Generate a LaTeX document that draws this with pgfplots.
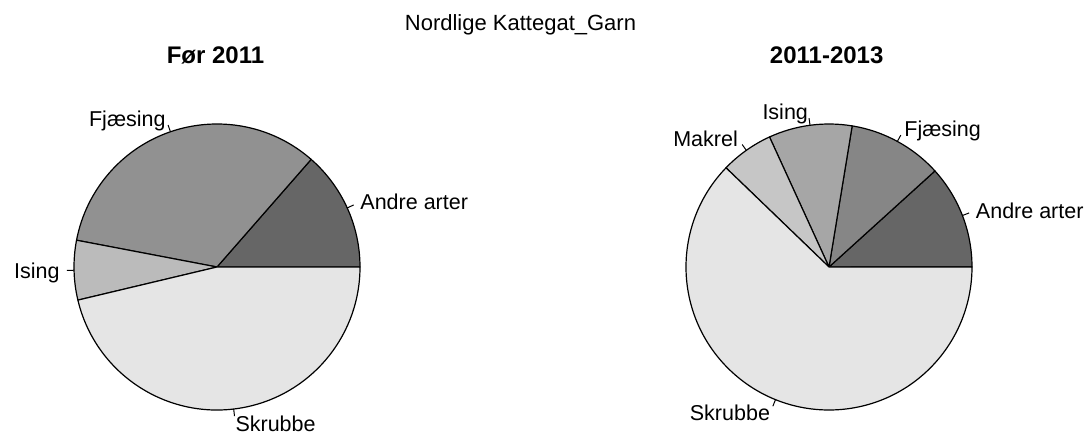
\documentclass[border=0pt]{standalone}
\usepackage{fontspec}
\setmainfont{Liberation Sans}
\usepackage{pgfplots}
\pgfplotsset{compat=1.18}
\usepackage{pgfplotstable}

% shares of each species (R pie order: counter-clockwise from 3 o'clock)
\pgfplotstableread[col sep=comma]{
name,share,gray
Andre arter,0.1356,0.40
Fjæsing,0.3344,0.567
Ising,0.0672,0.733
Skrubbe,0.4628,0.90
}\pieA
\pgfplotstableread[col sep=comma]{
name,share,gray
Andre arter,0.1172,0.40
Fjæsing,0.1069,0.525
Ising,0.0942,0.65
Makrel,0.0597,0.775
Skrubbe,0.6220,0.90
}\pieB

\newcommand\lblfont{\fontsize{21.5bp}{26bp}\selectfont}
\def\R{143bp}

\newcommand\drawpie[1]{%
  \pgfplotstablegetrowsof{#1}%
  \pgfmathtruncatemacro\nrows{\pgfplotsretval-1}%
  \def\cum{0}%
  \pgfplotsforeachungrouped \r in {0,...,\nrows}{%
    \pgfplotstablegetelem{\r}{share}\of{#1}\let\sh\pgfplotsretval
    \pgfplotstablegetelem{\r}{gray}\of{#1}\let\gv\pgfplotsretval
    \pgfplotstablegetelem{\r}{name}\of{#1}\let\nm\pgfplotsretval
    \pgfmathsetmacro\aS{360*\cum}%
    \pgfmathsetmacro\aE{360*(\cum+\sh)}%
    \pgfmathsetmacro\aM{(\aS+\aE)/2}%
    \pgfmathsetmacro\cx{cos(\aM)}%
    \pgfmathsetmacro\sy{sin(\aM)}%
    \pgfmathsetmacro\gp{100*\gv}%
    \pgfmathparse{\cx>0}%
    \ifdim\pgfmathresult pt>0.5pt \def\anc{base west}\else\def\anc{base east}\fi
    \edef\cmd{%
      \noexpand\filldraw[fill=white!\gp!black, draw=black, line width=1.2bp, line join=round]
        (axis cs:0,0) -- (axis cs:{cos(\aS)},{sin(\aS)})
        arc[start angle=\aS, end angle=\aE, radius=\R] -- cycle;
      \noexpand\draw[line width=1bp] (axis cs:{\cx},{\sy}) -- (axis cs:{1.05*\cx},{1.05*\sy});
      \noexpand\node[anchor=\anc, font=\noexpand\lblfont, inner sep=0pt, yshift=-8bp]
        at (axis cs:{1.1*\cx},{1.1*\sy}) {\nm};
    }\cmd
    \pgfmathsetmacro\newcum{\cum+\sh}\let\cum\newcum
  }%
}

\begin{document}
\begin{tikzpicture}
\path[use as bounding box] (0,0) rectangle (1086bp,434bp);

\begin{axis}[at={(217bp,167bp)}, anchor=center, x=\R, y=\R,
  xmin=-1, xmax=1, ymin=-1, ymax=1, hide axis, clip=false]
  \drawpie{\pieA}
\end{axis}

\begin{axis}[at={(829bp,167bp)}, anchor=center, x=\R, y=\R,
  xmin=-1, xmax=1, ymin=-1, ymax=1, hide axis, clip=false]
  \drawpie{\pieB}
\end{axis}

\node[anchor=base, inner sep=0pt, font=\fontsize{22bp}{26bp}\selectfont] at (520.5bp,403.3bp) {Nordlige Kattegat\_Garn};
\node[anchor=base, inner sep=0pt, font=\fontsize{24bp}{28bp}\selectfont\bfseries] at (215.5bp,370.5bp) {Før 2011};
\node[anchor=base, inner sep=0pt, font=\fontsize{24bp}{28bp}\selectfont\bfseries] at (826.7bp,370.5bp) {2011-2013};
\end{tikzpicture}
\end{document}
